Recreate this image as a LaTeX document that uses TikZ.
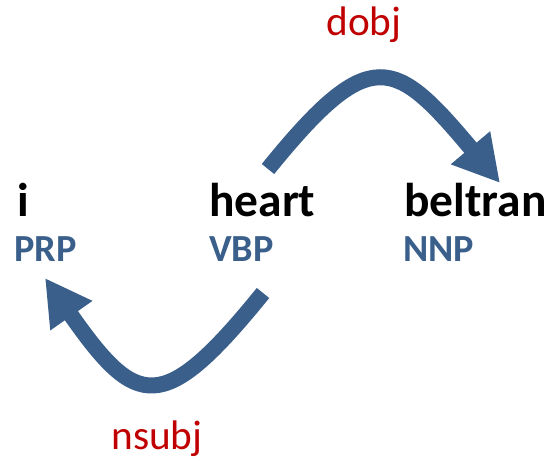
\documentclass[tikz,border=0pt]{standalone}
\usepackage{fontspec}
\setmainfont{Carlito}
\usepackage{tikz}
\usetikzlibrary{arrows.meta}

\definecolor{arcblue}{RGB}{58,95,139}
\definecolor{relred}{RGB}{192,0,0}

\begin{document}
\begin{tikzpicture}[
    word/.style={font=\fontsize{27}{30}\selectfont\bfseries, inner sep=0pt, anchor=base west, text=black},
    tag/.style={font=\fontsize{21.8}{24}\selectfont\bfseries, inner sep=0pt, anchor=base west, text=arcblue},
    rel/.style={font=\fontsize{23.5}{26}\selectfont, inner sep=0pt, anchor=base, text=relred},
    dep/.style={draw=arcblue, line width=0.32cm, -{Triangle[length=0.92cm, width=0.96cm]}, fill=none},
]
\useasboundingbox (0,0) rectangle (11,9.24);

% Words
\node[word] (i) at (0.34, 4.90) {i};
\node[word] (heart) at (4.18, 4.90) {heart};
\node[word] (beltran) at (8.08, 4.90) {beltran};

% POS tags
\node[tag] (prp) at (0.28, 4.00) {PRP};
\node[tag] (vbp) at (4.18, 4.00) {VBP};
\node[tag] (nnp) at (8.06, 4.00) {NNP};

% Relation labels
\node[rel] (dobj) at (7.28, 8.52) {dobj};
\node[rel] (nsubj) at (3.14, 0.24) {nsubj};

% Arc ends
\coordinate (dobj-from) at (5.36, 5.86);
\coordinate (dobj-to) at (10.00, 5.58);
\coordinate (nsubj-from) at (5.26, 3.38);
\coordinate (nsubj-to) at (0.90, 3.68);

% Dependency arcs
\draw[dep] (dobj-from) to[out=51, in=130, looseness=1.8] (dobj-to);
\draw[dep] (nsubj-from) to[out=231, in=-55, looseness=1.87] (nsubj-to);
\end{tikzpicture}
\end{document}
